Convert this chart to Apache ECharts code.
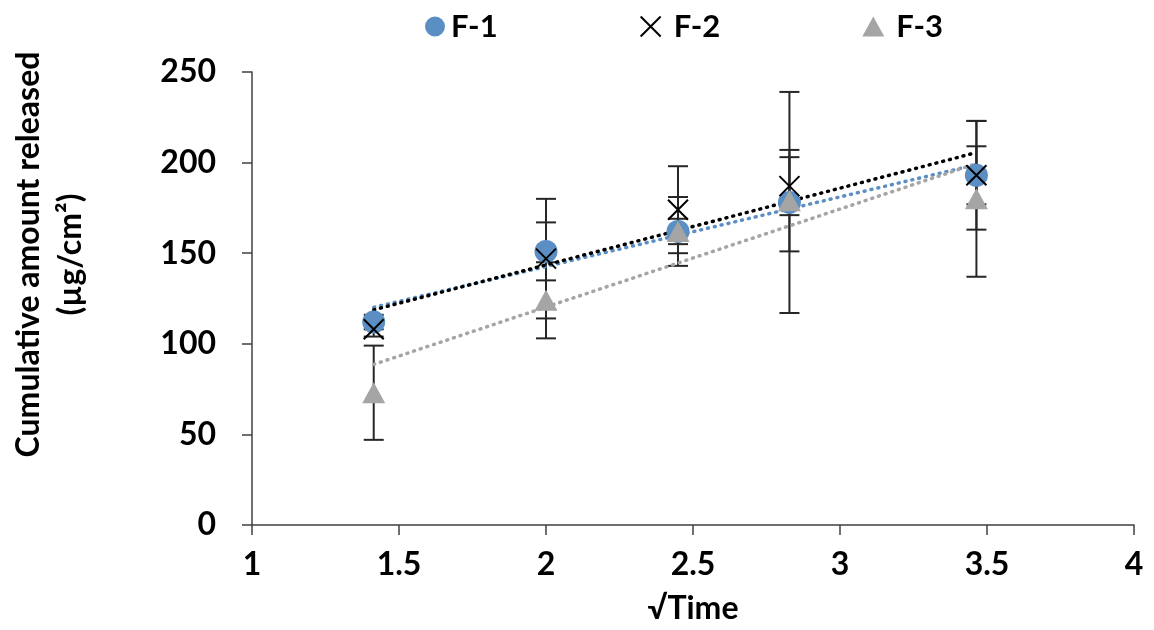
<!DOCTYPE html>
<html>
<head>
<meta charset="utf-8">
<script src="https://cdn.jsdelivr.net/npm/echarts@6/dist/echarts.min.js"></script>
<style>
  html, body { margin: 0; padding: 0; background: #fff; }
  #chart { width: 1154px; height: 630px; }
</style>
</head>
<body>
<div id="chart"></div>
<script>
// √Time values (√2, √4, √6, √8, √12)
const sqrtTime = [1.414, 2, 2.449, 2.828, 3.464]

// cumulative amount released (µg/cm²) and error (±)
const f1 = [112, 151, 162, 178, 193]
const f1Err = [4, 16, 19, 61, 16]
const f2 = [108, 147, 174, 187, 193]
const f2Err = [4, 33, 24, 16, 30]
const f3 = [73, 124, 162, 179, 180]
const f3Err = [26, 21, 7, 28, 43]

const seriesNames = ['F-1', 'F-2', 'F-3']
const colors = ['#5b8fc4', '#000000', '#a5a5a5']

const FONT = 'Lato'

// least squares line, drawn across the data range (like Excel trendline)
const trend = (xs, ys) => {
  const n = xs.length
  const mx = xs.reduce((a, b) => a + b, 0) / n
  const my = ys.reduce((a, b) => a + b, 0) / n
  let sxy = 0
  let sxx = 0
  xs.forEach((x, i) => {
    sxy += (x - mx) * (ys[i] - my)
    sxx += (x - mx) * (x - mx)
  })
  const k = sxy / sxx
  const b = my - k * mx
  const x0 = xs[0]
  const x1 = xs[n - 1]
  return [[x0, k * x0 + b], [x1, k * x1 + b]]
}

const pairs = (ys) => sqrtTime.map((x, i) => [x, ys[i]])
const errData = (ys, es) => sqrtTime.map((x, i) => [x, ys[i] - es[i], ys[i] + es[i]])

// vertical error bar with caps
const renderErr = (params, api) => {
  const lo = api.coord([api.value(0), api.value(1)])
  const hi = api.coord([api.value(0), api.value(2)])
  const w = 10
  const style = { stroke: '#262626', lineWidth: 2 }
  return {
    type: 'group',
    children: [
      { type: 'line', shape: { x1: lo[0], y1: lo[1], x2: hi[0], y2: hi[1] }, style },
      { type: 'line', shape: { x1: lo[0] - w, y1: lo[1], x2: lo[0] + w, y2: lo[1] }, style },
      { type: 'line', shape: { x1: hi[0] - w, y1: hi[1], x2: hi[0] + w, y2: hi[1] }, style },
    ],
  }
}

const errSeries = (ys, es) => ({
  type: 'custom',
  renderItem: renderErr,
  data: errData(ys, es),
  encode: { x: 0, y: [1, 2] },
  z: 2,
  silent: true,
})

const trendSeries = (ys, color) => ({
  type: 'line',
  data: trend(sqrtTime, ys),
  symbol: 'none',
  lineStyle: { color, width: 3.5, type: [1, 6], cap: 'round' },
  z: 3,
  silent: true,
})

const xPath = 'path://M0,0L10,10M10,0L0,10'

const myChart = echarts.init(document.getElementById('chart'))
const option = {
  animation: false,
  legend: {
    left: 420,
    top: 6,
    itemGap: 142,
    itemWidth: 22,
    itemHeight: 20,
    textStyle: { fontFamily: FONT, fontWeight: 'bold', fontSize: 31, color: '#000' },
    data: [
      { name: 'F-1', icon: 'circle' },
      {
        name: 'F-2',
        icon: xPath,
        itemStyle: { color: '#000', borderColor: '#000', borderWidth: 2 },
        textStyle: { padding: [0, 0, 0, 7] },
      },
      { name: 'F-3', icon: 'triangle', textStyle: { padding: [0, 0, 0, 7] } },
    ],
  },
  grid: { left: 250, right: 20, top: 72, bottom: 102 },
  xAxis: {
    type: 'value',
    min: 1,
    max: 4,
    interval: 0.5,
    name: '√Time',
    nameLocation: 'middle',
    nameGap: 68,
    nameTextStyle: { fontFamily: FONT, fontWeight: 'bold', fontSize: 32, color: '#000' },
    axisLine: { lineStyle: { color: '#404040', width: 1.5 } },
    axisTick: { length: 10, lineStyle: { color: '#404040', width: 1.5 } },
    axisLabel: { margin: 24, fontFamily: FONT, fontWeight: 'bold', fontSize: 32, color: '#000' },
    splitLine: { show: false },
  },
  yAxis: {
    type: 'value',
    min: 0,
    max: 250,
    interval: 50,
    name: 'Cumulative amount released\n(µg/cm²)',
    nameLocation: 'middle',
    nameRotate: 90,
    nameGap: 160,
    nameTextStyle: {
      fontFamily: FONT, fontWeight: 'bold', fontSize: 32, color: '#000',
      lineHeight: 42, align: 'center', padding: [0, 0, 0, 88],
    },
    axisLine: { show: true, lineStyle: { color: '#404040', width: 1.5 } },
    axisTick: { show: true, length: 10, lineStyle: { color: '#404040', width: 1.5 } },
    axisLabel: { margin: 36, fontFamily: FONT, fontWeight: 'bold', fontSize: 32, color: '#000' },
    splitLine: { show: false },
  },
  series: [
    errSeries(f1, f1Err),
    errSeries(f2, f2Err),
    errSeries(f3, f3Err),
    trendSeries(f1, colors[0]),
    trendSeries(f2, colors[1]),
    trendSeries(f3, colors[2]),
    {
      name: seriesNames[0],
      type: 'scatter',
      data: pairs(f1),
      symbol: 'circle',
      symbolSize: 23,
      itemStyle: { color: colors[0], opacity: 1 },
      z: 4,
    },
    {
      name: seriesNames[1],
      type: 'scatter',
      data: pairs(f2),
      symbol: xPath,
      symbolSize: 20,
      itemStyle: { color: '#000', borderColor: '#000', borderWidth: 2, opacity: 1 },
      z: 5,
    },
    {
      name: seriesNames[2],
      type: 'scatter',
      data: pairs(f3),
      symbol: 'triangle',
      symbolSize: [23, 21],
      itemStyle: { color: colors[2], opacity: 1 },
      z: 6,
    },
  ],
}
option && myChart.setOption(option)
</script>
</body>
</html>
